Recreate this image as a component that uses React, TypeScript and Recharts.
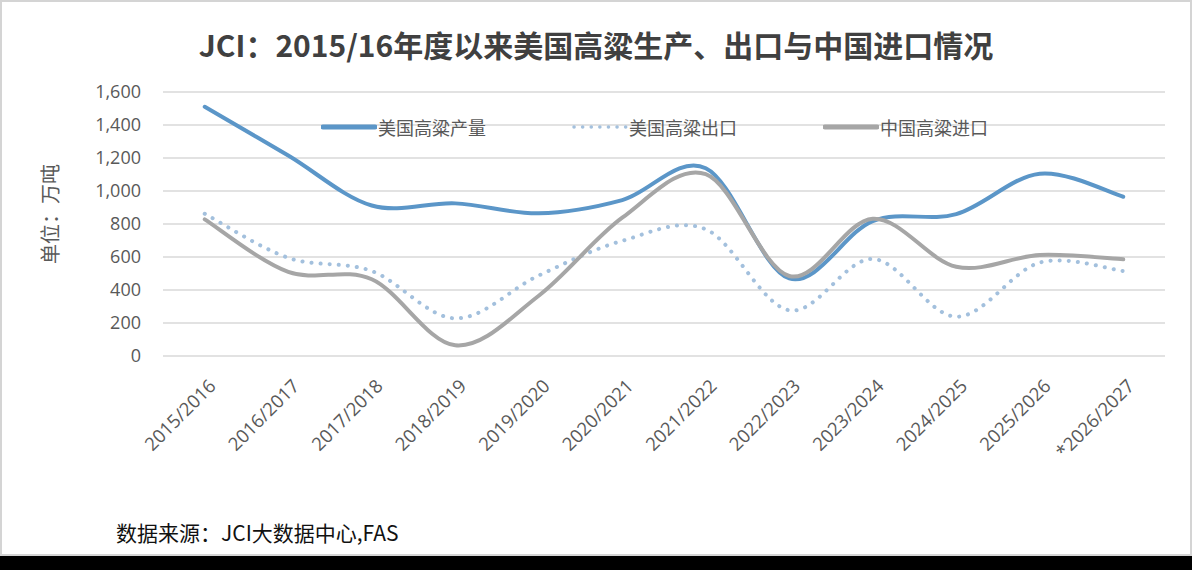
import React from 'react';
import { LineChart, Line, XAxis, YAxis, CartesianGrid } from 'recharts';

// 单位：万吨
const seasons = [
  '2015/2016', '2016/2017', '2017/2018', '2018/2019', '2019/2020', '2020/2021',
  '2021/2022', '2022/2023', '2023/2024', '2024/2025', '2025/2026', '*2026/2027',
];
const usProduction = [1510, 1215, 912, 925, 865, 945, 1138, 470, 818, 860, 1105, 965];
const usExports    = [862, 595, 515, 228, 488, 698, 768, 277, 588, 238, 566, 515];
const chinaImports = [828, 510, 465, 65, 365, 838, 1102, 485, 832, 541, 612, 586];
const yTicks = [0, 200, 400, 600, 800, 1000, 1200, 1400, 1600];

const SERIES = [
  { key: 'prod', name: '美国高粱产量', color: '#5b96c8', dash: undefined as string | undefined },
  { key: 'exp',  name: '美国高粱出口', color: '#a3c0dd', dash: '0.1 9' },
  { key: 'imp',  name: '中国高粱进口', color: '#a6a6a6', dash: undefined as string | undefined },
];

const rows = seasons.map((s, i) => ({
  season: s,
  prod: usProduction[i],
  exp: usExports[i],
  imp: chinaImports[i],
}));

const FONT = '"Noto Sans CJK SC", "Noto Sans", sans-serif';
const TICK_FONT = '"Open Sans", "Noto Sans", sans-serif';
const AXIS_GREY = '#595959';

// catmull-rom style smoothing, close to Excel's "smoothed line"
const smoothCurve = (context: any) => {
  let pts: [number, number][] = [];
  return {
    areaStart() {},
    areaEnd() {},
    lineStart() { pts = []; },
    lineEnd() {
      if (!pts.length) return;
      context.moveTo(pts[0][0], pts[0][1]);
      for (let i = 0; i < pts.length - 1; i++) {
        const p0 = pts[i - 1] || pts[i];
        const p1 = pts[i];
        const p2 = pts[i + 1];
        const p3 = pts[i + 2] || p2;
        context.bezierCurveTo(
          p1[0] + (p2[0] - p0[0]) / 6, p1[1] + (p2[1] - p0[1]) / 6,
          p2[0] - (p3[0] - p1[0]) / 6, p2[1] - (p3[1] - p1[1]) / 6,
          p2[0], p2[1],
        );
      }
    },
    point(x: number, y: number) { pts.push([+x, +y]); },
  };
};

const fmt = (v: number) => v.toLocaleString('en-US');

const SeasonTick = (props: any) => {
  const { x, y, payload } = props;
  const ax = x + 7;
  const ay = y + 18;
  return (
    <text
      x={ax} y={ay}
      transform={`rotate(-45, ${ax}, ${ay})`}
      textAnchor="end"
      dominantBaseline="central"
      fill={AXIS_GREY}
      fontSize={18.5}
      fontFamily={TICK_FONT}
    >
      {payload.value}
    </text>
  );
};

export default function App() {
  return (
    <div style={{
      position: 'absolute', left: 0, top: 0, width: 1192, height: 570,
      background: '#fff', overflow: 'hidden', fontFamily: FONT,
    }}>
      {/* frame */}
      <div style={{
        position: 'absolute', left: 0, top: 0, width: 1188, height: 552,
        border: '2px solid #d4d4d4',
      }} />
      <div style={{ position: 'absolute', left: 0, top: 556, width: 1192, height: 14, background: '#000' }} />

      {/* title */}
      <div style={{
        position: 'absolute', left: 0, top: 24, width: 1192, textAlign: 'center',
        fontSize: 30, fontWeight: 700, color: '#404040', lineHeight: '40px',
      }}>
        JCI：2015/16年度以来美国高粱生产、出口与中国进口情况
      </div>

      {/* y axis caption */}
      <div style={{
        position: 'absolute', left: 49, top: 214, transform: 'translate(-50%, -50%) rotate(-90deg)',
        fontSize: 20, color: AXIS_GREY, whiteSpace: 'nowrap',
      }}>
        单位：万吨
      </div>

      <div style={{ position: 'absolute', left: 0, top: 0 }}>
        <LineChart
          width={1192}
          height={570}
          data={rows}
          margin={{ top: 92, right: 27, bottom: 124, left: 103 }}
        >
          <CartesianGrid vertical={false} stroke="#d9d9d9" strokeWidth={1.5} />
          <XAxis
            dataKey="season"
            axisLine={false}
            tickLine={false}
            interval={0}
            height={90}
            padding={{ left: 41.75, right: 41.75 }}
            tick={<SeasonTick />}
          />
          <YAxis
            domain={[0, 1600]}
            ticks={yTicks}
            width={60}
            axisLine={false}
            tickLine={false}
            tickSize={0}
            tickMargin={22}
            tickFormatter={fmt}
            tick={{ fill: AXIS_GREY, fontSize: 18, fontFamily: TICK_FONT }}
          />
          {SERIES.map(s => (
            <Line
              key={s.key}
              dataKey={s.key}
              name={s.name}
              type={smoothCurve as any}
              stroke={s.color}
              strokeWidth={4}
              strokeDasharray={s.dash}
              strokeLinecap="round"
              dot={false}
              activeDot={false}
              isAnimationActive={false}
            />
          ))}
        </LineChart>
      </div>

      {/* legend */}
      {SERIES.map((s, i) => (
        <div key={s.key} style={{
          position: 'absolute', left: 321 + i * 251, top: 114, height: 26,
          display: 'flex', alignItems: 'center',
        }}>
          <svg width={56} height={10} style={{ display: 'block' }}>
            <line
              x1={2} y1={5} x2={54} y2={5}
              stroke={s.color} strokeWidth={s.dash ? 3.5 : 5}
              strokeDasharray={s.dash ? '0.1 8.5' : undefined}
              strokeLinecap="round"
            />
          </svg>
          <span style={{ fontSize: 18, color: AXIS_GREY, marginLeft: 1, whiteSpace: 'nowrap' }}>{s.name}</span>
        </div>
      ))}

      {/* source */}
      <div style={{
        position: 'absolute', left: 116, top: 517, fontSize: 21, color: '#111', whiteSpace: 'nowrap',
      }}>
        数据来源：JCI大数据中心,FAS
      </div>
    </div>
  );
}
